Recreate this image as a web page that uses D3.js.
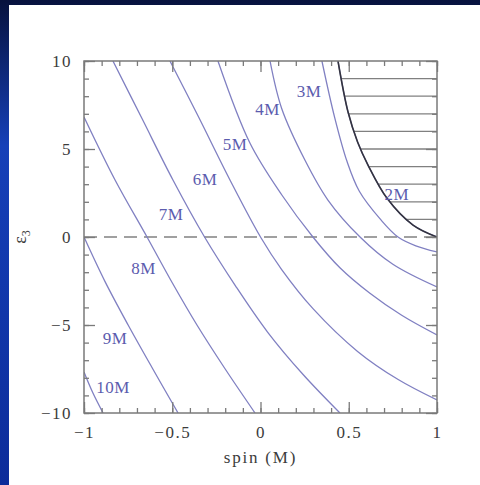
<!DOCTYPE html>
<html>
<head>
<meta charset="utf-8">
<script src="https://cdn.jsdelivr.net/npm/d3@7"></script>
<style>
body { margin: 0; background: #0b1d6e; }
svg { display: block; }
text { font-family: "Liberation Serif", serif; }
</style>
</head>
<body>
<svg></svg>
<script>
var width = 480;
var height = 485;
var margin = {top: 61, right: 43, bottom: 72, left: 84};

// curves of constant ISCO radius, [spin, eps3]
var isco10M = [[-1, -7.67], [-0.95, -8.85], [-0.892, -10]];
var isco9M = [[-1, 0], [-0.88, -2.55], [-0.75, -5], [-0.61, -7.5], [-0.467, -10]];
var isco8M = [[-1, 6.82], [-0.824, 3.24], [-0.643, 0], [-0.5, -2.6], [-0.36, -5], [-0.2, -7.5], [-0.031, -10]];
var isco7M = [[-0.836, 10], [-0.67, 6.7], [-0.496, 3.24], [-0.317, 0], [-0.14, -2.8], [0.04, -5.4], [0.24, -7.8], [0.45, -10]];
var isco6M = [[-0.513, 10], [-0.35, 6.8], [-0.173, 3.24], [0, 0], [0.12, -1.85], [0.3, -4.1], [0.55, -6.5], [0.78, -8.1], [1, -9.26]];
var isco5M = [[-0.241, 10], [-0.06, 5.34], [0.12, 2.4], [0.297, 0], [0.45, -1.75], [0.62, -3.2], [0.8, -4.45], [1, -5.57]];
var isco4M = [[0.054, 10], [0.12, 7.3], [0.25, 4.4], [0.382, 2.1], [0.564, 0], [0.75, -1.55], [1, -2.84]];
var isco3M = [[0.348, 10], [0.42, 6.8], [0.49, 4.3], [0.56, 2.6], [0.68, 1.0], [0.779, 0], [0.88, -0.5], [1, -0.85]];
var isco2M = [[0.439, 10], [0.496, 7.1], [0.55, 5.4], [0.609, 4.09], [0.717, 2.2], [0.864, 0.68], [1, 0]];

var blueCurves = [isco10M, isco9M, isco8M, isco7M, isco6M, isco5M, isco4M, isco3M, isco2M];

// label text and where it sits, [spin, eps3]
var labelNames = ['10M', '9M', '8M', '7M', '6M', '5M', '4M', '3M', '2M'];
var labelPos = [[-0.836, -8.52], [-0.824, -5.74], [-0.663, -1.76], [-0.507, 1.31], [-0.314, 3.3],
	[-0.144, 5.28], [0.04, 7.27], [0.275, 8.3], [0.773, 2.44]];

var hatchLevels = [1, 2, 3, 4, 5, 6, 7, 8, 9];

var spinTicks = [-1, -0.5, 0, 0.5, 1];
var spinTickLabels = ['\u22121', '\u22120.5', '0', '0.5', '1'];
var epsTicks = [-10, -5, 0, 5, 10];
var epsTickLabels = ['\u221210', '\u22125', '0', '5', '10'];

var w = width - margin.left - margin.right;
var h = height - margin.top - margin.bottom;

var svg = d3.select('svg')
	.attr('width', width)
	.attr('height', height);

// slide background
var grad = svg.append('defs').append('linearGradient')
	.attr('id', 'bg')
	.attr('x1', 0).attr('y1', 0).attr('x2', 0).attr('y2', 1);
grad.append('stop').attr('offset', '0%').attr('stop-color', '#07123d');
grad.append('stop').attr('offset', '30%').attr('stop-color', '#1640b8');
grad.append('stop').attr('offset', '100%').attr('stop-color', '#0c2c9a');

svg.append('rect')
	.attr('width', width)
	.attr('height', height)
	.attr('fill', 'url(#bg)');

svg.append('rect')
	.attr('x', 9)
	.attr('y', 5)
	.attr('width', width - 9)
	.attr('height', height - 5)
	.attr('fill', '#fff');

var x = d3.scaleLinear()
	.domain([-1, 1])
	.range([0, w]);

var y = d3.scaleLinear()
	.domain([-10, 10])
	.range([h, 0]);

var g = svg.append('g')
	.attr('transform', `translate(${margin.left},${margin.top})`);

g.append('clipPath')
	.attr('id', 'plot')
	.append('rect')
	.attr('width', w)
	.attr('height', h);

var line = d3.line()
	.x(function(d) { return x(d[0]); })
	.y(function(d) { return y(d[1]); })
	.curve(d3.curveCatmullRom.alpha(0.5));

// hatched forbidden region right of the 2M curve
var hatchArea = d3.area()
	.x(function(d) { return x(d[0]); })
	.y0(y(10))
	.y1(function(d) { return y(d[1]); })
	.curve(d3.curveCatmullRom.alpha(0.5));

g.append('clipPath')
	.attr('id', 'hatch')
	.append('path')
	.attr('d', hatchArea(isco2M));

g.append('g')
	.attr('clip-path', 'url(#hatch)')
	.selectAll('line')
	.data(hatchLevels)
	.enter().append('line')
	.attr('x1', x(0.3))
	.attr('x2', x(1))
	.attr('y1', function(d) { return y(d); })
	.attr('y2', function(d) { return y(d); })
	.attr('stroke', '#808080')
	.attr('stroke-width', 1.3);

// eps3 = 0 line
g.append('line')
	.attr('x1', x(-1))
	.attr('x2', x(1))
	.attr('y1', y(0))
	.attr('y2', y(0))
	.attr('stroke', '#a0a0a0')
	.attr('stroke-width', 2)
	.attr('stroke-dasharray', '13,7');

var curves = g.append('g').attr('clip-path', 'url(#plot)');

curves.selectAll('path.iso')
	.data(blueCurves)
	.enter().append('path')
	.attr('class', 'iso')
	.attr('d', line)
	.attr('fill', 'none')
	.attr('stroke', '#8080c2')
	.attr('stroke-width', 1.3);

curves.append('path')
	.attr('d', line(isco2M))
	.attr('fill', 'none')
	.attr('stroke', '#33333f')
	.attr('stroke-width', 1.6);

g.selectAll('text.lab')
	.data(labelNames)
	.enter().append('text')
	.attr('class', 'lab')
	.attr('x', function(d, i) { return x(labelPos[i][0]); })
	.attr('y', function(d, i) { return y(labelPos[i][1]); })
	.attr('dy', '0.35em')
	.attr('text-anchor', 'middle')
	.attr('font-size', 17)
	.attr('letter-spacing', 0.5)
	.attr('fill', '#5c5cae')
	.text(function(d) { return d; });

// axes, ticks pointing inward on all four sides
function styleAxis(sel) {
	sel.select('.domain').remove();
	sel.selectAll('line').attr('stroke', '#7a7a7a').attr('stroke-width', 1.3);
	sel.selectAll('text')
		.attr('font-family', '"Liberation Serif", serif')
		.attr('font-size', 17)
		.attr('letter-spacing', 1.5)
		.attr('fill', '#3c3c3c');
}

var minorSpin = d3.range(-10, 11).map(function(d) { return d / 10; });
var minorEps = d3.range(-10, 11);

g.append('g')
	.attr('transform', `translate(0,${h})`)
	.call(d3.axisBottom(x).tickValues(minorSpin).tickSize(-5).tickFormat(''))
	.call(styleAxis);
g.append('g')
	.attr('transform', `translate(0,${h})`)
	.call(d3.axisBottom(x).tickValues(spinTicks).tickSize(-11).tickPadding(13)
		.tickFormat(function(d, i) { return spinTickLabels[i]; }))
	.call(styleAxis);
g.append('g')
	.call(d3.axisTop(x).tickValues(minorSpin).tickSize(-5).tickFormat(''))
	.call(styleAxis);
g.append('g')
	.call(d3.axisTop(x).tickValues(spinTicks).tickSize(-11).tickFormat(''))
	.call(styleAxis);

g.append('g')
	.call(d3.axisLeft(y).tickValues(minorEps).tickSize(-5).tickFormat(''))
	.call(styleAxis);
g.append('g')
	.call(d3.axisLeft(y).tickValues(epsTicks).tickSize(-11).tickPadding(12)
		.tickFormat(function(d, i) { return epsTickLabels[i]; }))
	.call(styleAxis);
g.append('g')
	.attr('transform', `translate(${w},0)`)
	.call(d3.axisRight(y).tickValues(minorEps).tickSize(-5).tickFormat(''))
	.call(styleAxis);
g.append('g')
	.attr('transform', `translate(${w},0)`)
	.call(d3.axisRight(y).tickValues(epsTicks).tickSize(-11).tickFormat(''))
	.call(styleAxis);

g.append('rect')
	.attr('width', w)
	.attr('height', h)
	.attr('fill', 'none')
	.attr('stroke', '#7a7a7a')
	.attr('stroke-width', 1.5);

// axis titles
svg.append('text')
	.attr('x', margin.left + w / 2)
	.attr('y', 463)
	.attr('text-anchor', 'middle')
	.attr('font-size', 17)
	.attr('letter-spacing', 1.8)
	.attr('fill', '#3c3c3c')
	.text('spin (M)');

var ylab = svg.append('text')
	.attr('transform', 'translate(26,237) rotate(-90)')
	.attr('text-anchor', 'middle')
	.attr('font-size', 18)
	.attr('fill', '#3c3c3c');
ylab.append('tspan').text('\u03b5');
ylab.append('tspan').attr('font-size', 12).attr('dy', 4).text('3');
</script>
</body>
</html>
